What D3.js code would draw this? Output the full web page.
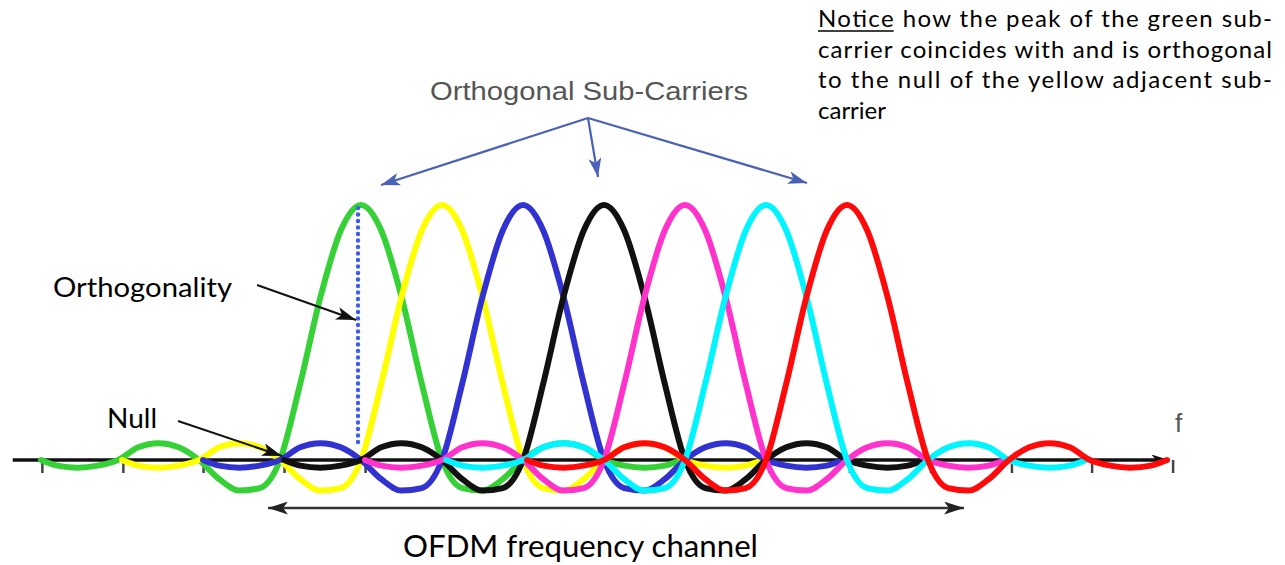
<!DOCTYPE html>
<html><head><meta charset="utf-8">
<script src="https://cdn.jsdelivr.net/npm/d3@7/dist/d3.min.js"></script>
<style>html,body{margin:0;padding:0;background:#fff;} svg{display:block;}</style>
</head><body>
<svg id="chart" width="1285" height="565"></svg>
<script>
// ---- data ----
const carrierNames = ["green", "yellow", "blue", "black", "magenta", "cyan", "red"];
const carrierCenters = [0, 1, 2, 3, 4, 5, 6];          // sub-carrier frequency (spacing units)
const carrierPeaks = [1, 1, 1, 1, 1, 1, 1];            // relative amplitude of each sub-carrier
// pulse shape of one sub-carrier (offset from its centre, in spacings)
const pulseOffsets = [-3.95, -3.75, -3.5, -3.25, -3, -2.75, -2.5, -2.25, -2, -1.75, -1.5, -1.25, -1,
  -0.75, -0.5, -0.25, 0, 0.25, 0.5, 0.75, 1, 1.25, 1.5, 1.75, 2, 2.25, 2.5, 2.75, 3, 3.25, 3.5, 3.75, 3.95];
const pulseValues = [0, -0.022, -0.03, -0.022, 0, 0.05, 0.066, 0.05, 0, -0.075, -0.12, -0.11, 0,
  0.30, 0.64, 0.90, 1, 0.90, 0.64, 0.30, 0, -0.11, -0.12, -0.075, 0, 0.05, 0.066, 0.05, 0, -0.022, -0.03, -0.022, 0];
const tickValues = [-3.94, -2.94, -1.95, -0.95, 0.05, 1.05, 2.04, 3.04, 4.04, 5.04, 6.03, 7.03, 8.03, 9.02, 10.02];
const noticeLines = ["Notice how the peak of the green sub-", "carrier coincides with and is orthogonal",
  "to the null of the yellow adjacent sub-", "carrier"];

// ---- styles ----
const carrierColors = {green: "#36d136", yellow: "#ffff00", blue: "#3232d0", black: "#111111",
  magenta: "#ff33cc", cyan: "#00f5ff", red: "#ff0a0a"};

const svg = d3.select("#chart");
const x = d3.scaleLinear().domain([0, 6]).range([361, 847]);
const y = d3.scaleLinear().domain([0, 1]).range([460, 205]);

const defs = svg.append("defs");
function marker(id, color, len, wid) {
  defs.append("marker").attr("id", id).attr("markerUnits", "userSpaceOnUse")
    .attr("viewBox", `0 0 ${len} ${wid}`).attr("refX", len).attr("refY", wid / 2)
    .attr("markerWidth", len).attr("markerHeight", wid).attr("orient", "auto-start-reverse")
    .append("path").attr("d", `M0,0 L${len},${wid / 2} L0,${wid} L${len * 0.25},${wid / 2} Z`).attr("fill", color);
}
marker("arrBlack", "#111", 20, 13);
marker("arrBlue", "#4a62b6", 19, 13);
marker("arrAxis", "#111", 18, 11);
marker("arrGray", "#222", 20, 13);

// ---- axis ----
const axis = d3.axisBottom(x).tickValues(tickValues).tickSize(13).tickFormat("");
const gAxis = svg.append("g").attr("transform", "translate(0,460)").call(axis);
gAxis.select(".domain").remove();
gAxis.selectAll(".tick line").attr("stroke", "#444").attr("stroke-width", 2.5);
svg.append("line").attr("x1", x(-4.3)).attr("x2", x(9.98)).attr("y1", y(0)).attr("y2", y(0))
  .attr("stroke", "#111").attr("stroke-width", 3.5).attr("marker-end", "url(#arrAxis)");
svg.append("text").attr("x", 1175).attr("y", 432).attr("font-family", "Liberation Sans, Arial, sans-serif")
  .attr("font-size", 26).attr("fill", "#555").text("f");

// ---- sub-carriers ----
const line = d3.line().x(d => x(d.f)).y(d => y(d.v)).curve(d3.curveMonotoneX);
carrierNames.forEach((name, i) => {
  const pts = pulseOffsets.map((o, k) => ({f: carrierCenters[i] + o, v: carrierPeaks[i] * pulseValues[k]}));
  svg.append("path").datum(pts).attr("d", line).attr("fill", "none")
    .attr("stroke", carrierColors[name]).attr("stroke-width", 6)
    .attr("stroke-linejoin", "round").attr("stroke-linecap", "round");
});

// dotted orthogonality line at the green peak
svg.append("line").attr("x1", x(carrierCenters[0]) - 3).attr("x2", x(carrierCenters[0]) - 3)
  .attr("y1", y(1) + 3).attr("y2", y(0.06))
  .attr("stroke", "#3f5fe6").attr("stroke-width", 4.5).attr("stroke-linecap", "round")
  .attr("stroke-dasharray", "0,6.5");

// ---- annotations ----
const calib = "Lato, 'Open Sans', sans-serif";
svg.append("text").attr("x", 430).attr("y", 100).attr("font-family", "Liberation Sans, Arial, sans-serif")
  .attr("font-size", 25).attr("fill", "#555").attr("textLength", 318).attr("lengthAdjust", "spacingAndGlyphs")
  .text("Orthogonal Sub-Carriers");
[[381, 185], [598, 177], [807, 183]].forEach(t => {
  svg.append("line").attr("x1", 588).attr("y1", 118).attr("x2", t[0]).attr("y2", t[1])
    .attr("stroke", "#4a62b6").attr("stroke-width", 2.2).attr("marker-end", "url(#arrBlue)");
});

svg.append("text").attr("x", 53).attr("y", 297).attr("font-family", calib).attr("font-size", 27)
  .attr("fill", "#000").attr("textLength", 179).attr("lengthAdjust", "spacingAndGlyphs").text("Orthogonality");
svg.append("line").attr("x1", 257).attr("y1", 285).attr("x2", 356).attr("y2", 320)
  .attr("stroke", "#111").attr("stroke-width", 2).attr("marker-end", "url(#arrBlack)");

svg.append("text").attr("x", 107).attr("y", 428).attr("font-family", calib).attr("font-size", 27)
  .attr("fill", "#000").attr("textLength", 50).attr("lengthAdjust", "spacingAndGlyphs").text("Null");
svg.append("line").attr("x1", 178).attr("y1", 421).attr("x2", 282).attr("y2", 456)
  .attr("stroke", "#111").attr("stroke-width", 2).attr("marker-end", "url(#arrBlack)");

// channel arrow
svg.append("line").attr("x1", 268).attr("x2", 964).attr("y1", 508).attr("y2", 508)
  .attr("stroke", "#333").attr("stroke-width", 2.5)
  .attr("marker-start", "url(#arrGray)").attr("marker-end", "url(#arrGray)");
svg.append("text").attr("x", 403).attr("y", 557).attr("font-family", calib).attr("font-size", 31)
  .attr("fill", "#000").attr("textLength", 355).attr("lengthAdjust", "spacingAndGlyphs").text("OFDM frequency channel");

// notice paragraph (justified)
const noticeX = 818, noticeRight = 1272, noticeBase = [27, 57.5, 88, 118.5];
noticeLines.forEach((t, i) => {
  const tx = svg.append("text").attr("x", noticeX).attr("y", noticeBase[i]).attr("font-family", calib)
    .attr("font-size", 24).attr("fill", "#000").text(t);
  if (i < 3) tx.attr("textLength", noticeRight - noticeX).attr("lengthAdjust", "spacing");
  if (i === 0) {
    const node = tx.node();
    const end = node.getEndPositionOfChar(5).x;
    svg.append("line").attr("x1", noticeX).attr("x2", end).attr("y1", noticeBase[0] + 4).attr("y2", noticeBase[0] + 4)
      .attr("stroke", "#000").attr("stroke-width", 1.5);
  }
});
</script>
</body></html>
